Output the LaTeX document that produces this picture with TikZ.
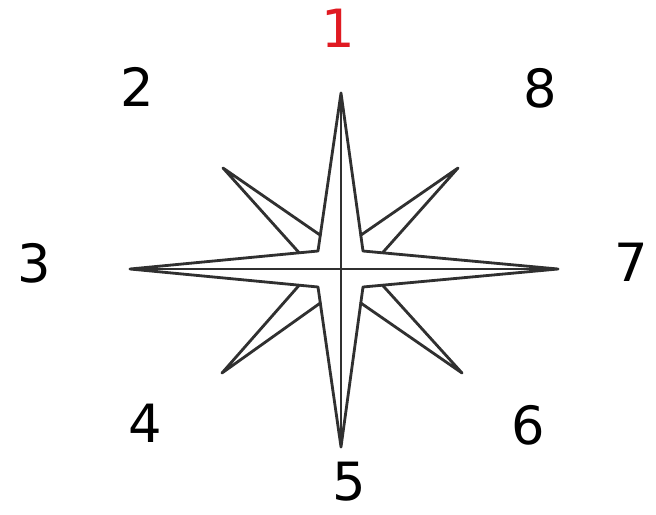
\documentclass[tikz,border=0pt]{standalone}
\usepackage{fontspec}
\setmainfont{DejaVu Sans}
\usetikzlibrary{calc}
\definecolor{inkgray}{HTML}{303030}
\definecolor{numred}{HTML}{E01A22}
\tikzset{
  ray/.style={draw=inkgray, line width=1.6pt, line join=round, line cap=round},
  num/.style={font=\fontsize{30}{30}\selectfont, inner sep=0pt, anchor=center},
}

\begin{document}
\begin{tikzpicture}[x=0.02cm, y=-0.02cm]
  \useasboundingbox (0,0) rectangle (656,514);
  % long rays
  \coordinate (tN) at (341,93);
  \coordinate (tS) at (341,447);
  \coordinate (tW) at (130,269);
  \coordinate (tE) at (558,269);
  \coordinate (cNW) at (318,251);
  \coordinate (cNE) at (363,251);
  \coordinate (cSW) at (318,287);
  \coordinate (cSE) at (363,287);
  % short rays
  \coordinate (dNW) at (223,168);
  \coordinate (dNE) at (458,168);
  \coordinate (dSW) at (222,373);
  \coordinate (dSE) at (462,373);

  \draw[ray] (tN) -- (cNE) -- (tE) -- (cSE) -- (tS) -- (cSW) -- (tW) -- (cNW) -- cycle;
  \draw[ray] (tN) -- (tS);
  \draw[ray] (tW) -- (tE);
  \foreach \c/\a/\b/\d in {cNW/tN/tW/dNW, cNE/tN/tE/dNE, cSW/tS/tW/dSW, cSE/tS/tE/dSE}
    \draw[ray] ($(\c)!0.1!(\a)$) -- (\d) -- ($(\c)!0.1!(\b)$);

  % numbers
  \node[num, text=numred] (n1) at (338,28) {1};
  \node[num] (n2) at (137,87) {2};
  \node[num] (n3) at (34,263) {3};
  \node[num] (n4) at (145,423) {4};
  \node[num] (n5) at (349,482) {5};
  \node[num] (n6) at (528,425) {6};
  \node[num] (n7) at (631,262) {7};
  \node[num] (n8) at (540,88) {8};
\end{tikzpicture}
\end{document}
